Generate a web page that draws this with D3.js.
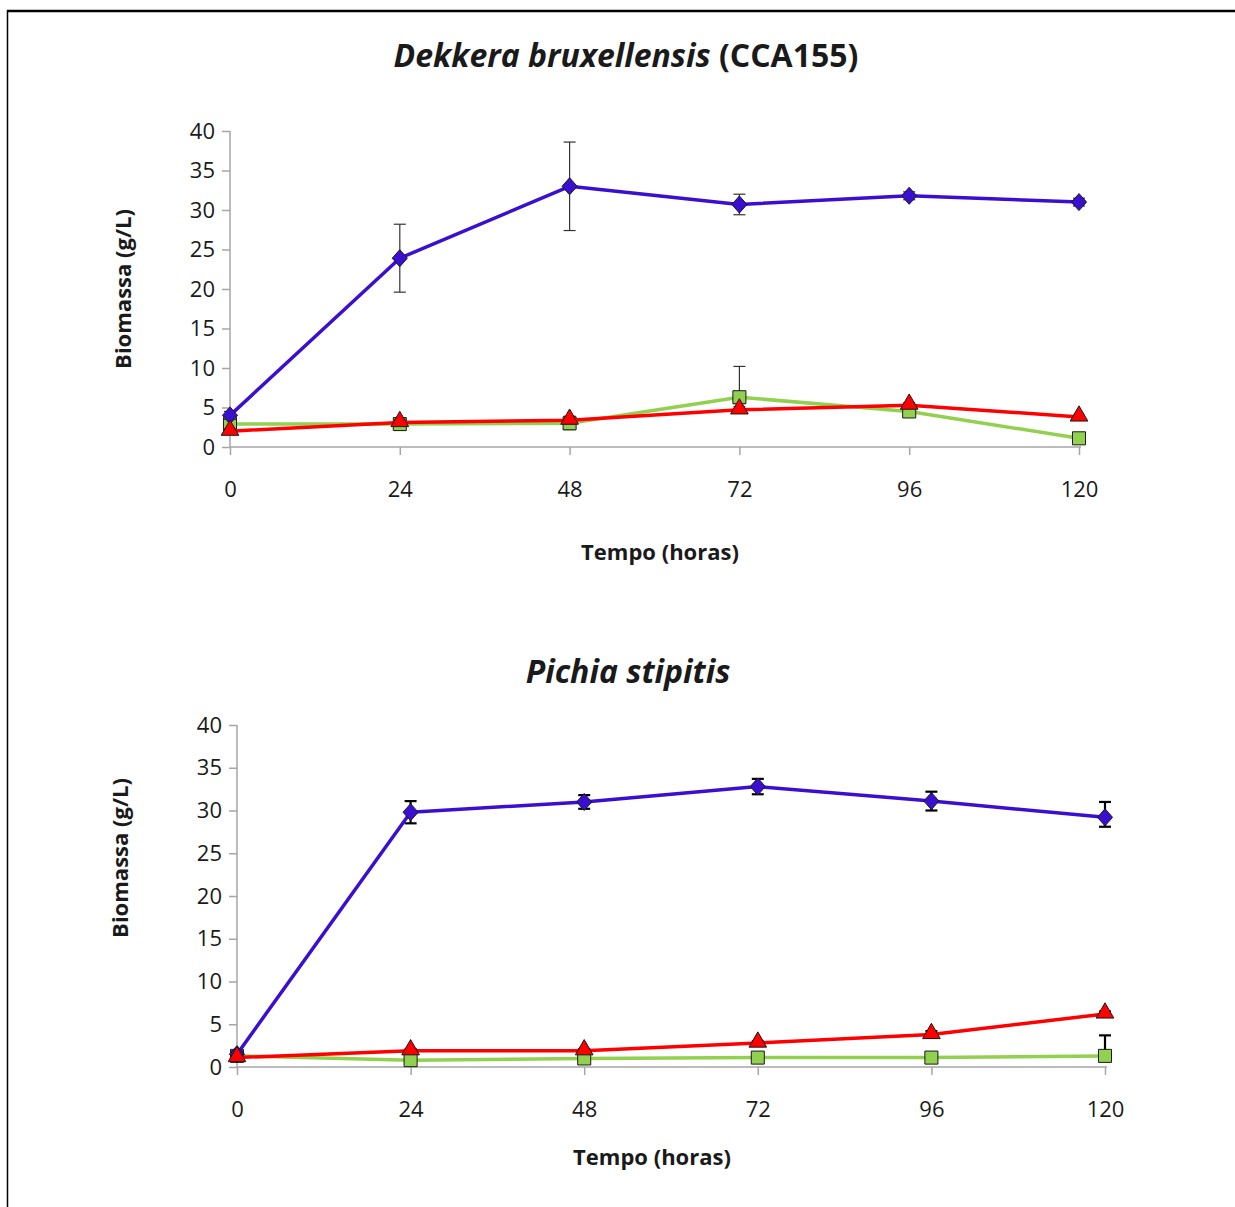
<!DOCTYPE html>
<html>
<head>
<meta charset="utf-8">
<script src="https://cdn.jsdelivr.net/npm/d3@7"></script>
<style>
html,body{margin:0;padding:0;background:#fff;}
svg{display:block;}
text{font-family:"Open Sans",Lato,sans-serif;fill:#1a1a1a;}
</style>
</head>
<body>
<script>
// ---- data ----
const hours = [0, 24, 48, 72, 96, 120];
const xTicks = [0, 24, 48, 72, 96, 120];
const yTicks = [0, 5, 10, 15, 20, 25, 30, 35, 40];

// Dekkera bruxellensis (CCA155)
const dekkeraBlue = [4.0, 23.9, 33.0, 30.7, 31.8, 31.0];
const dekkeraBlueErrUp = [0.5, 4.3, 5.6, 1.3, 0.5, 0.5];
const dekkeraBlueErrDown = [0.5, 4.3, 5.6, 1.3, 0.5, 0.5];
const dekkeraGreen = [2.9, 2.9, 3.0, 6.3, 4.5, 1.1];
const dekkeraGreenErrUp = [0.3, 0.8, 0.8, 3.9, 0.4, 0.3];
const dekkeraGreenErrDown = [0.3, 0.8, 0.8, 0.8, 0.4, 0.3];
const dekkeraRed = [2.0, 3.1, 3.4, 4.7, 5.3, 3.8];
const dekkeraRedErrUp = [0.3, 0.4, 0.5, 0.4, 0.3, 0.2];
const dekkeraRedErrDown = [0.3, 0.4, 0.5, 0.4, 0.3, 0.2];

// Pichia stipitis
const pichiaBlue = [1.5, 29.8, 31.0, 32.8, 31.1, 29.2];
const pichiaBlueErrUp = [0.3, 1.3, 0.8, 0.9, 1.1, 1.8];
const pichiaBlueErrDown = [0.3, 1.3, 0.8, 0.9, 1.1, 1.1];
const pichiaGreen = [1.3, 0.8, 1.0, 1.1, 1.1, 1.3];
const pichiaGreenErrUp = [0.4, 0.3, 0.4, 0.4, 0.3, 2.4];
const pichiaGreenErrDown = [0.4, 0.3, 0.4, 0.4, 0.3, 0.5];
const pichiaRed = [1.1, 1.9, 1.9, 2.8, 3.8, 6.2];
const pichiaRedErrUp = [0.2, 0.2, 0.2, 0.2, 0.4, 0.3];
const pichiaRedErrDown = [0.2, 0.2, 0.2, 0.2, 0.4, 0.3];

const titles = ["Dekkera bruxellensis", "Pichia stipitis"];
const titleSuffix = ["(CCA155)", ""];
const xLabel = "Tempo (horas)";
const yLabel = "Biomassa (g/L)";

const colors = {blue: "#3b0fd0", green: "#92d050", red: "#ff0000"};

const W = 1235, H = 1207;
const svg = d3.select("body").append("svg").attr("width", W).attr("height", H);

// frame
svg.append("line").attr("x1", 7).attr("x2", W).attr("y1", 11).attr("y2", 11)
  .attr("stroke", "#000").attr("stroke-width", 2.5);
svg.append("line").attr("x1", 7.5).attr("x2", 7.5).attr("y1", 10).attr("y2", H)
  .attr("stroke", "#000").attr("stroke-width", 1.5);

const panels = [
  {
    x0: 230, x1: 1079, y0: 447, y1: 131,
    titleY: 67, titleX: 626, xLabY: 560, xLabX: 660, yLabX: 131, yLabY: 289,
    errW: 1.2, errColor: "#333", cap: 6,
    series: [
      {v: dekkeraGreen, up: dekkeraGreenErrUp, dn: dekkeraGreenErrDown, c: "green", shape: "square"},
      {v: dekkeraBlue, up: dekkeraBlueErrUp, dn: dekkeraBlueErrDown, c: "blue", shape: "diamond"},
      {v: dekkeraRed, up: dekkeraRedErrUp, dn: dekkeraRedErrDown, c: "red", shape: "triangle"}
    ]
  },
  {
    x0: 237, x1: 1105, y0: 1067, y1: 725,
    titleY: 683, titleX: 628, xLabY: 1165, xLabX: 652, yLabX: 128, yLabY: 858,
    errW: 2.2, errColor: "#000", cap: 6,
    series: [
      {v: pichiaGreen, up: pichiaGreenErrUp, dn: pichiaGreenErrDown, c: "green", shape: "square"},
      {v: pichiaBlue, up: pichiaBlueErrUp, dn: pichiaBlueErrDown, c: "blue", shape: "diamond"},
      {v: pichiaRed, up: pichiaRedErrUp, dn: pichiaRedErrDown, c: "red", shape: "triangle"}
    ]
  }
];

// wide diamond like the spreadsheet marker
const wideDiamond = {
  draw(ctx, size) {
    const w = Math.sqrt(size) * 0.64, h = Math.sqrt(size) * 0.72;
    ctx.moveTo(0, -h); ctx.lineTo(w, 0); ctx.lineTo(0, h); ctx.lineTo(-w, 0); ctx.closePath();
  }
};

panels.forEach((p, pi) => {
  const x = d3.scaleLinear().domain([0, 120]).range([p.x0, p.x1]);
  const y = d3.scaleLinear().domain([0, 40]).range([p.y0, p.y1]);
  const g = svg.append("g");

  // title
  const t = g.append("text").attr("x", p.titleX).attr("y", p.titleY)
    .attr("text-anchor", "middle").attr("font-size", 32).attr("font-weight", "bold");
  t.append("tspan").attr("font-style", "italic").text(titles[pi]);
  if (titleSuffix[pi]) t.append("tspan").text("\u00a0" + titleSuffix[pi]);

  // axes
  const yAxis = d3.axisLeft(y).tickValues(yTicks).tickSize(8).tickPadding(7);
  const xAxis = d3.axisBottom(x).tickValues(xTicks).tickSize(8).tickPadding(26);
  const ya = g.append("g").attr("transform", `translate(${p.x0},0)`).call(yAxis);
  const xa = g.append("g").attr("transform", `translate(0,${p.y0})`).call(xAxis);
  [ya, xa].forEach(a => {
    a.select(".domain").attr("stroke", "#a6a6a6").attr("stroke-width", 1.5);
    a.selectAll(".tick line").attr("stroke", "#a6a6a6").attr("stroke-width", 1.5);
    a.selectAll(".tick text").attr("font-size", 22).attr("fill", "#1a1a1a")
      .attr("font-family", "'Open Sans', Lato, sans-serif");
  });
  ya.select(".domain").attr("d", `M0,${p.y0}V${p.y1}`);
  xa.select(".domain").attr("d", `M${p.x0},0H${p.x1 + 2}`);

  g.append("text").attr("x", p.xLabX).attr("y", p.xLabY).attr("text-anchor", "middle")
    .attr("font-size", 22).attr("font-weight", "bold").text(xLabel);
  g.append("text").attr("transform", `translate(${p.yLabX},${p.yLabY}) rotate(-90)`)
    .attr("text-anchor", "middle").attr("font-size", 22).attr("font-weight", "bold").text(yLabel);

  const line = d3.line().x((d, i) => x(hours[i])).y(d => y(d));

  p.series.forEach(s => {
    const sg = g.append("g");
    s.v.forEach((v, i) => {
      const cx = x(hours[i]);
      const yt = y(v + s.up[i]), yb = y(Math.max(0, v - s.dn[i]));
      sg.append("line").attr("x1", cx).attr("x2", cx).attr("y1", yt).attr("y2", yb)
        .attr("stroke", p.errColor).attr("stroke-width", p.errW);
      [yt, yb].forEach(yy => sg.append("line").attr("x1", cx - p.cap).attr("x2", cx + p.cap)
        .attr("y1", yy).attr("y2", yy).attr("stroke", p.errColor).attr("stroke-width", p.errW));
    });
    sg.append("path").datum(s.v).attr("d", line).attr("fill", "none")
      .attr("stroke", colors[s.c]).attr("stroke-width", 3.5).attr("stroke-linejoin", "round");
    const sym = {
      square: d3.symbol().type(d3.symbolSquare).size(170),
      diamond: d3.symbol().type(wideDiamond).size(140),
      triangle: d3.symbol().type(d3.symbolTriangle).size(135)
    }[s.shape];
    s.v.forEach((v, i) => {
      sg.append("path").attr("d", sym)
        .attr("transform", `translate(${x(hours[i])},${y(v) + (s.shape === "triangle" ? -1 : 0)})`)
        .attr("fill", colors[s.c]).attr("stroke", "#1a1a1a").attr("stroke-width", 1);
    });
  });
});
</script>
</body>
</html>
